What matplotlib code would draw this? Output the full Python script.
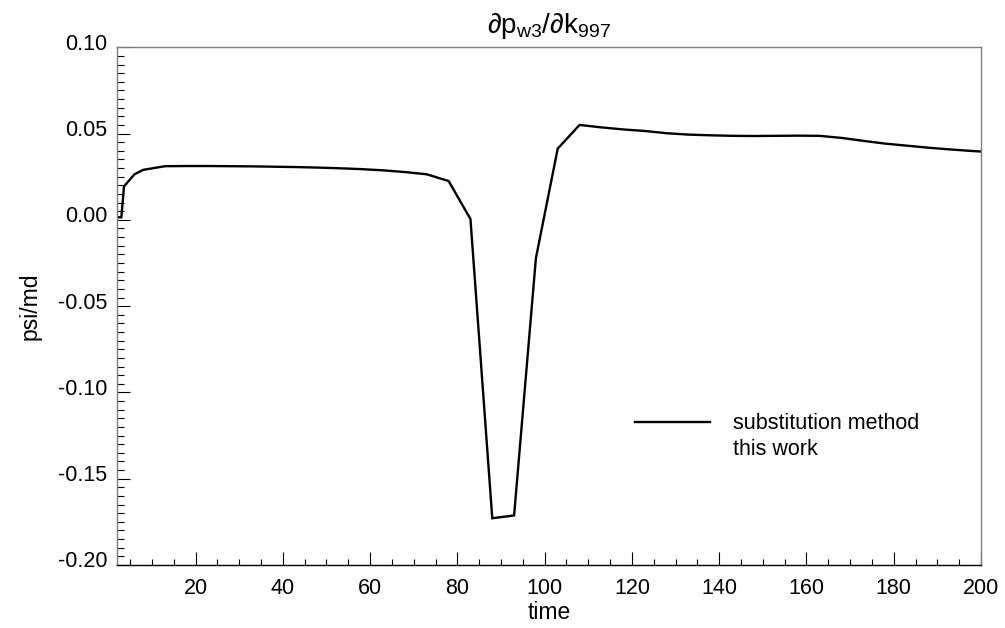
import matplotlib
matplotlib.use("Agg")
import matplotlib.pyplot as plt
from matplotlib.ticker import MultipleLocator, FormatStrFormatter
from matplotlib.lines import Line2D
from matplotlib.transforms import ScaledTranslation

# ---- data ----
time = [2, 3, 3.6, 6, 8, 13, 18, 23, 28, 33, 38, 43, 48, 53, 58, 63, 68, 73,
        78, 83, 88, 93, 98, 103, 108, 113, 118, 123, 128, 133, 138, 143, 148,
        153, 158, 163, 168, 173, 178, 183, 188, 193, 198, 200]
dpdk = [0.0015, 0.0015, 0.0194, 0.0264, 0.0290, 0.0311, 0.0312, 0.0312, 0.0311,
        0.0310, 0.0308, 0.0306, 0.0303, 0.0299, 0.0294, 0.0287, 0.0277, 0.0264,
        0.0225, 0.0005, -0.1729, -0.1713, -0.0222, 0.0413, 0.0550, 0.0536,
        0.0524, 0.0515, 0.0502, 0.0494, 0.0490, 0.0487, 0.0486, 0.0487, 0.0488,
        0.0487, 0.0475, 0.0458, 0.0442, 0.0430, 0.0418, 0.0408, 0.0399, 0.0396]
series_label = ["substitution method", "this work"]
title_text = r"$\partial\mathregular{p_{w3}}/\partial\mathregular{k_{997}}$"
xlabel_text = "time"
ylabel_text = "psi/md"

plt.rcParams["font.family"] = ["Liberation Sans", "DejaVu Sans"]
plt.rcParams["mathtext.fontset"] = "custom"
plt.rcParams["mathtext.rm"] = "Liberation Sans"
plt.rcParams["mathtext.it"] = "Liberation Sans"
plt.rcParams["mathtext.sf"] = "Liberation Sans"

fig = plt.figure(figsize=(10.05, 6.28), dpi=100)
ax = fig.add_axes([117 / 1005, 1 - 565 / 628, (981 - 117) / 1005, (565 - 47.3) / 628])

line, = ax.plot(time, dpdk, color="black", lw=1.7, solid_joinstyle="miter")

ax.set_xlim(2, 200)
ax.set_ylim(-0.20, 0.10)
ax.xaxis.set_major_locator(MultipleLocator(20))
ax.xaxis.set_minor_locator(MultipleLocator(5))
ax.yaxis.set_major_locator(MultipleLocator(0.05))
ax.yaxis.set_minor_locator(MultipleLocator(0.005))
ax.yaxis.set_major_formatter(FormatStrFormatter("%.2f"))

ax.tick_params(which="both", direction="in", top=False, right=False,
               labelsize=15.5, colors="black", width=0.8)
ax.tick_params(axis="x", which="major", length=9.4, pad=9)
ax.tick_params(axis="x", which="minor", length=4.3)
ax.tick_params(axis="y", which="major", length=9.4, pad=7)
ax.tick_params(axis="y", which="minor", length=5)

for side in ["left", "top", "right"]:
    ax.spines[side].set_color("#7f7f7f")
    ax.spines[side].set_linewidth(1.0)
ax.spines["bottom"].set_color("black")
ax.spines["bottom"].set_linewidth(1.0)

fig.canvas.draw()
off = ScaledTranslation(0, 4 / 72, fig.dpi_scale_trans)
for lab in ax.get_yticklabels():
    lab.set_transform(lab.get_transform() + off)

ax.set_xlabel(xlabel_text, fontsize=16.5, labelpad=2)
ax.set_ylabel(ylabel_text, fontsize=16.5, labelpad=12)
ax.set_title(title_text, fontsize=20, pad=10)

blank = Line2D([], [], color="none")
ax.legend([line, blank], series_label, loc="upper left",
          bbox_to_anchor=(0.5995, 0.293), frameon=False, fontsize=15.5,
          handlelength=3.5, handletextpad=1.05, borderpad=0, borderaxespad=0,
          labelspacing=0.22)

fig.savefig("out.png", dpi=100)
